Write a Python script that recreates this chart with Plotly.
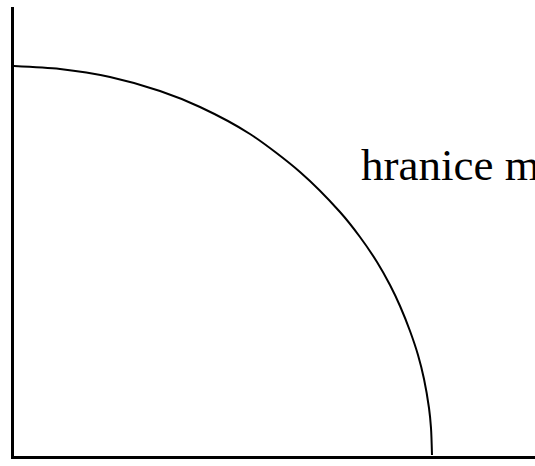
import plotly.graph_objects as go

# Points (x to the right of the y axis, y above the x axis)
curve_x = [0, 47, 97, 147, 187, 237, 287, 327, 347, 364, 377, 387, 397, 405, 411, 416, 418, 419]
curve_y = [389, 386, 378, 364, 348, 321, 283, 243, 218, 193, 170, 149, 124, 100, 76, 47, 27, 0]

label_text = "hranice možností"

fig = go.Figure()
fig.add_trace(go.Scatter(
    x=curve_x, y=curve_y,
    mode="lines",
    line=dict(color="black", width=2, shape="spline", smoothing=0.8),
    hoverinfo="skip",
    showlegend=False,
    cliponaxis=False,
))

fig.add_annotation(
    x=346, y=263, xref="x", yref="y",
    text=label_text, showarrow=False,
    xanchor="left", yanchor="bottom",
    font=dict(family="Liberation Serif", size=45, color="black"),
)

fig.update_layout(
    width=535, height=466,
    margin=dict(l=14, r=0, t=7, b=10),
    paper_bgcolor="white",
    plot_bgcolor="white",
    xaxis=dict(range=[1, 522], showline=True, linecolor="black", linewidth=3,
               showgrid=False, zeroline=False, showticklabels=False, ticks=""),
    yaxis=dict(range=[-1, 448], showline=True, linecolor="black", linewidth=3,
               showgrid=False, zeroline=False, showticklabels=False, ticks=""),
)

# drop the default page margin so the figure sits at the window corner
fig.write_html("out.html", config={"displayModeBar": False},
               post_script="document.body.style.margin = '0';")
